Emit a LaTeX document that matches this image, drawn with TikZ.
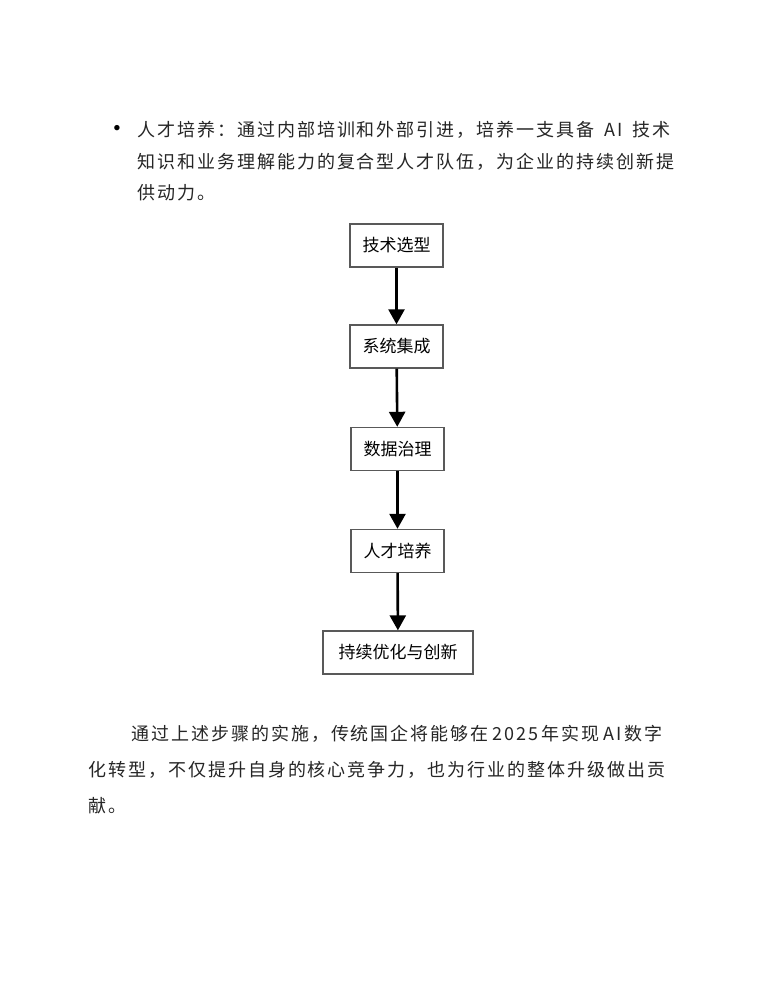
\documentclass[tikz,border=0pt]{standalone}
\usepackage{fontspec}
\usetikzlibrary{arrows.meta}
\newfontfamily\cjk[LetterSpace=11]{Noto Sans CJK SC}
\newfontfamily\cjkbox{Noto Sans CJK SC}

\begin{document}
\begin{tikzpicture}[x=1pt,y=-1pt,
		bodyline/.style={anchor=base west,inner sep=0,font=\cjk\fontsize{18}{18}\selectfont,text=black!85},
		stepbox/.style={draw=black!65,line width=1.4,fill=white,minimum height=43,inner sep=0,font=\cjkbox\fontsize{17}{17}\selectfont},
		flow/.style={line width=2.6,-{Triangle[width=16,length=15]}}]
		\useasboundingbox[fill=white] (0,0) rectangle (765,990);
		% bullet item
		\node (dot) at (117,130) {\fontsize{24}{24}\selectfont\textbullet};
		\node[bodyline] (l1) at (137,136) {人才培养：通过内部培训和外部引进，培养一支具备\kern10pt AI\kern10pt 技术};
		\node[bodyline] (l2) at (137,168) {知识和业务理解能力的复合型人才队伍，为企业的持续创新提};
		\node[bodyline] (l3) at (137,199) {供动力。};
		% flow chart
		\node[stepbox,minimum width=93] (s1) at (396.5,245.5) {技术选型};
		\node[stepbox,minimum width=93] (s2) at (396.5,346.5) {系统集成};
		\node[stepbox,minimum width=93] (s3) at (397.5,449) {数据治理};
		\node[stepbox,minimum width=93] (s4) at (397.5,551) {人才培养};
		\node[stepbox,minimum width=150] (s5) at (398,652.5) {持续优化与创新};
		\draw[flow] (s1) -- (s2);
		\draw[flow] (s2) -- (s3);
		\draw[flow] (s3) -- (s4);
		\draw[flow] (s4) -- (s5);
		% closing paragraph
		\node[bodyline] (p1) at (131,740) {通过上述步骤的实施，传统国企将能够在\kern3.5pt 2025\kern3.5pt 年实现\kern3.5pt AI\kern3.5pt 数字};
		\node[bodyline] (p2) at (88,776) {化转型，不仅提升自身的核心竞争力，也为行业的整体升级做出贡};
		\node[bodyline] (p3) at (88,812) {献。};
\end{tikzpicture}
\end{document}
